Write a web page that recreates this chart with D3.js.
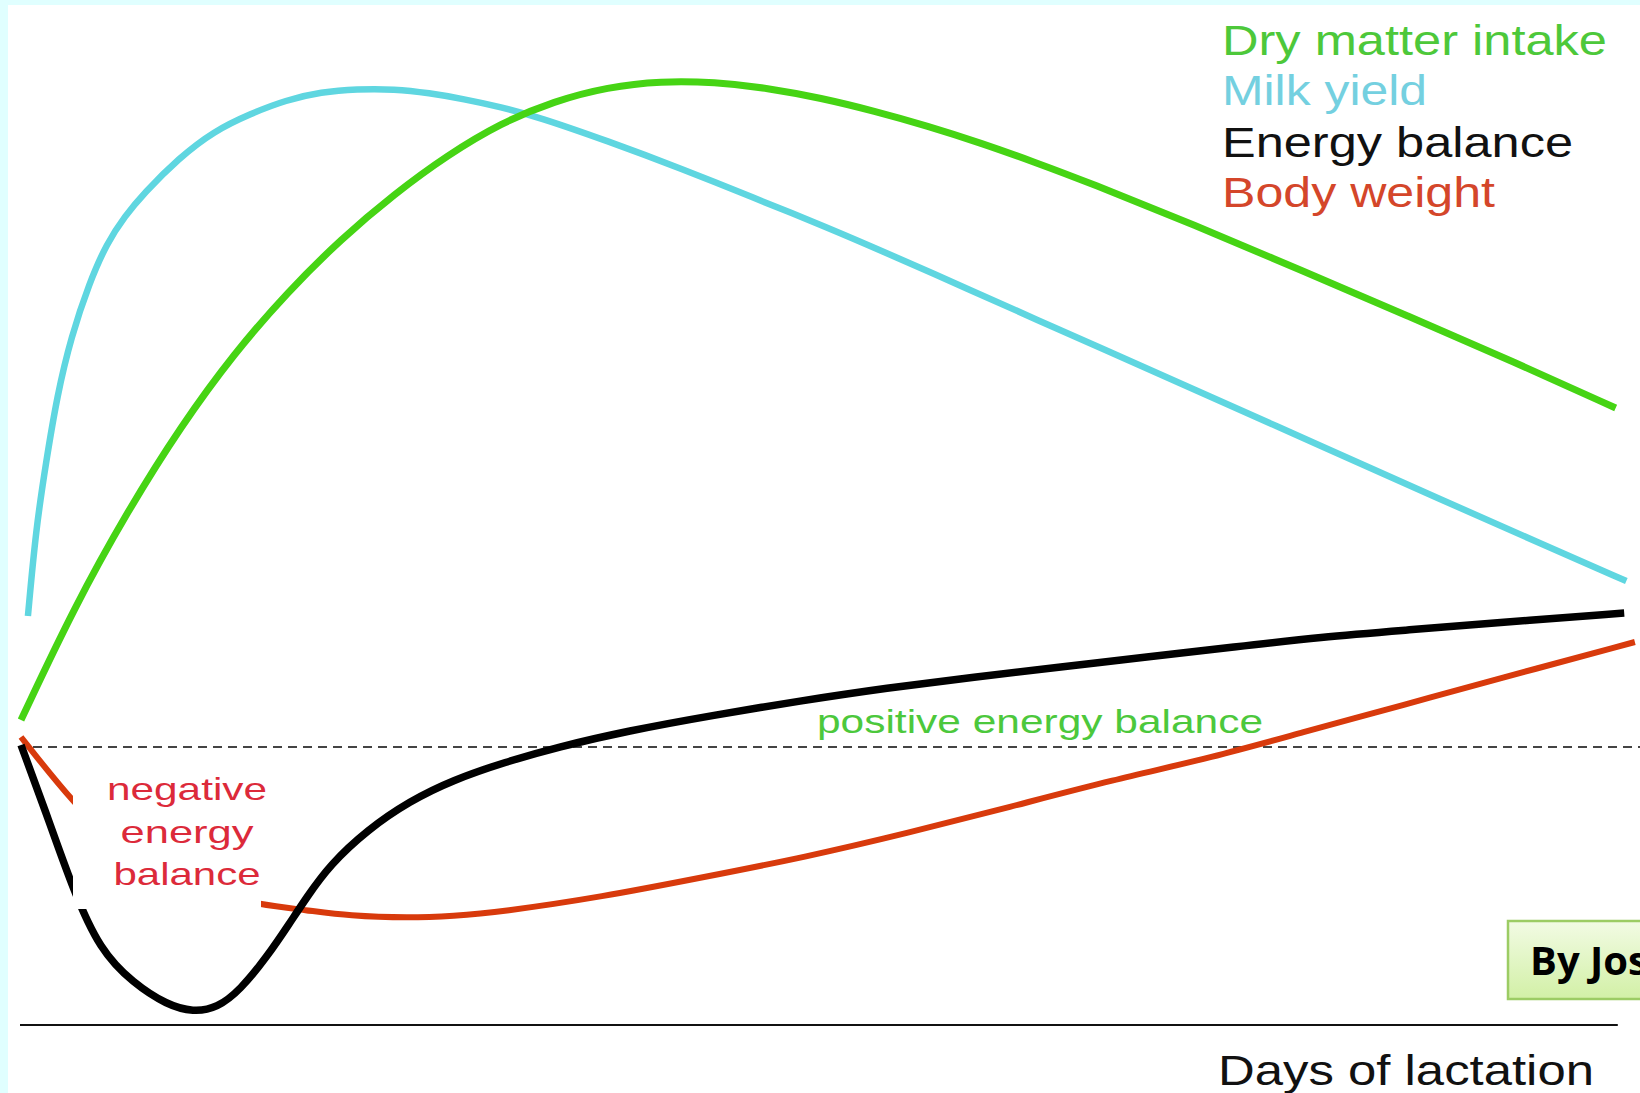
<!DOCTYPE html>
<html>
<head>
<meta charset="utf-8">
<script src="https://cdn.jsdelivr.net/npm/d3@7"></script>
<style>
  html, body { margin: 0; padding: 0; background: #e0ffff; overflow: hidden; }
  svg { display: block; }
</style>
</head>
<body>
<svg id="chart" width="1640" height="1093"></svg>
<script>
// ---------- DATA (days of lactation, relative units) ----------
const dmiDays   = [0, 10, 20, 30, 40, 50, 60, 70, 80, 90, 100, 110, 120, 130, 140, 150, 160, 170, 180, 190, 200, 220, 240, 260, 280, 299];
const dmiValues = [30.5, 41.8, 51.4, 59.9, 67.2, 73.3, 78.6, 83.1, 87.0, 90.2, 92.4, 93.8, 94.4, 94.3, 93.7, 92.7, 91.4, 89.9, 88.2, 86.3, 84.3, 80.0, 75.5, 70.9, 66.3, 61.7];

const milkDays   = [1.3, 2.8, 4.7, 6.8, 9.4, 12.8, 16.1, 19.5, 22.9, 29.6, 36.2, 42.9, 49.7, 56.3, 63, 70, 76.5, 83, 90, 97, 110, 124, 137, 151, 164, 178, 191, 202, 219, 245, 266, 286, 301];
const milkValues = [40.9, 49.6, 56.3, 63.0, 68.8, 74.2, 78.2, 80.9, 83.1, 86.7, 89.4, 91.1, 92.5, 93.3, 93.6, 93.6, 93.2, 92.6, 91.8, 90.8, 88.4, 85.6, 82.8, 79.8, 76.8, 73.5, 70.4, 67.8, 63.8, 57.6, 52.6, 47.9, 44.4];

const ebDays   = [0, 5.4, 9.8, 14.8, 21, 27.4, 32.3, 36.8, 41.1, 46.1, 50.4, 53.6, 57.9, 64.9, 72.9, 81, 90.8, 100.7, 113.6, 130, 146, 162.4, 178.7, 195, 211, 227.4, 243.8, 260, 276, 300.6];
const ebValues = [28.0, 20.2, 13.5, 7.5, 4.2, 2.0, 1.3, 1.7, 3.5, 6.8, 10.2, 12.8, 16.0, 19.5, 22.4, 24.5, 26.3, 27.8, 29.4, 31.0, 32.4, 33.7, 34.8, 35.8, 36.8, 37.8, 38.8, 39.5, 40.2, 41.2];

const bwDays   = [0, 9.6, 20.4, 33.6, 45, 53.4, 61.5, 72.9, 81, 89.8, 108.9, 128.1, 147.2, 166.3, 185.4, 204.6, 223.7, 239.8, 259.9, 276.2, 302.6];
const bwValues = [28.8, 22.3, 16.5, 13.4, 12.0, 11.5, 10.9, 10.7, 10.9, 11.3, 12.8, 14.8, 16.8, 19.2, 21.8, 24.5, 26.8, 29.2, 32.1, 34.5, 38.3];

const zeroBalance = 27.8;   // level of the dashed "energy balance = 0" line

const legendLabels = ["Dry matter intake", "Milk yield", "Energy balance", "Body weight"];
const negativeLabel = ["negative", "energy", "balance"];
const positiveLabel = "positive energy balance";
const axisLabel = "Days of lactation";
const creditLabel = "By Jos";

// ---------- STYLES ----------
const lineColors = { dmi: "#46d414", milk: "#5fd6e0", eb: "#000000", bw: "#d83a0c" };
const legendColors = ["#4dc83a", "#74d0e0", "#111111", "#d4462a"];
const legendWidths = [385, 205, 351, 273];

const svg = d3.select("#chart");
const W = 1640, H = 1093;

// frame: light cyan border on top/left, white canvas
svg.append("rect").attr("x", 0).attr("y", 0).attr("width", W).attr("height", H).attr("fill", "#e0ffff");
svg.append("rect").attr("x", 8).attr("y", 5).attr("width", W - 8).attr("height", H - 5).attr("fill", "#ffffff");

const x = d3.scaleLinear().domain([0, 300]).range([21, 1621]);
const y = d3.scaleLinear().domain([0, 100]).range([1025, 25]);

const line = d3.line().x(d => x(d[0])).y(d => y(d[1])).curve(d3.curveBasis);
const zip = (a, b) => a.map((v, i) => [v, b[i]]);

// dashed zero-balance line
svg.append("line")
  .attr("x1", 33).attr("x2", W)
  .attr("y1", y(zeroBalance)).attr("y2", y(zeroBalance))
  .attr("stroke", "#444").attr("stroke-width", 2)
  .attr("stroke-dasharray", "9,6");

// x axis line
svg.append("line")
  .attr("x1", x(0) - 1).attr("x2", x(299.4))
  .attr("y1", y(0)).attr("y2", y(0))
  .attr("stroke", "#111").attr("stroke-width", 2);

// series
const series = [
  { key: "bw",   days: bwDays,   vals: bwValues,   w: 6 },
  { key: "eb",   days: ebDays,   vals: ebValues,   w: 7.5 },
  { key: "milk", days: milkDays, vals: milkValues, w: 6.5 },
  { key: "dmi",  days: dmiDays,  vals: dmiValues,  w: 7 }
];
series.forEach(s => {
  svg.append("path")
    .datum(zip(s.days, s.vals))
    .attr("d", line)
    .attr("fill", "none")
    .attr("stroke", lineColors[s.key])
    .attr("stroke-width", s.w)
    .attr("stroke-linejoin", "round");
});

// "negative energy balance" label with white background
svg.append("rect").attr("x", 73).attr("y", 760).attr("width", 188).attr("height", 149).attr("fill", "#ffffff");
const negW = [160, 133, 147];
const negY = [800, 843, 885];
negativeLabel.forEach((t, i) => {
  svg.append("text")
    .attr("x", 187 - negW[i] / 2).attr("y", negY[i])
    .attr("textLength", negW[i]).attr("lengthAdjust", "spacingAndGlyphs")
    .attr("font-family", "Liberation Sans, Arial, sans-serif")
    .attr("font-size", 32)
    .attr("fill", "#dc2a3a")
    .text(t);
});

// positive label
svg.append("text")
  .attr("x", 817).attr("y", 733)
  .attr("textLength", 446).attr("lengthAdjust", "spacingAndGlyphs")
  .attr("font-family", "Liberation Sans, Arial, sans-serif")
  .attr("font-size", 34)
  .attr("fill", "#4cc83c")
  .text(positiveLabel);

// legend
const legendY = [55, 105, 157, 207];
legendLabels.forEach((t, i) => {
  svg.append("text")
    .attr("x", 1222).attr("y", legendY[i])
    .attr("textLength", legendWidths[i]).attr("lengthAdjust", "spacingAndGlyphs")
    .attr("font-family", "Liberation Sans, Arial, sans-serif")
    .attr("font-size", 42)
    .attr("fill", legendColors[i])
    .text(t);
});

// axis label
svg.append("text")
  .attr("x", 1218).attr("y", 1085)
  .attr("textLength", 376).attr("lengthAdjust", "spacingAndGlyphs")
  .attr("font-family", "Liberation Sans, Arial, sans-serif")
  .attr("font-size", 42)
  .attr("fill", "#111")
  .text(axisLabel);

// credit box (cut by the right edge, as in the reference)
const defs = svg.append("defs");
const grad = defs.append("linearGradient").attr("id", "cg").attr("x1", 0).attr("y1", 0).attr("x2", 0).attr("y2", 1);
grad.append("stop").attr("offset", "0%").attr("stop-color", "#f2fbe4");
grad.append("stop").attr("offset", "100%").attr("stop-color", "#d2f0a6");
svg.append("rect")
  .attr("x", 1508).attr("y", 921).attr("width", 160).attr("height", 78)
  .attr("fill", "url(#cg)").attr("stroke", "#9ccc64").attr("stroke-width", 2.5);
svg.append("text")
  .attr("x", 1530).attr("y", 975)
  .attr("font-family", "Open Sans, Liberation Sans, sans-serif")
  .attr("font-weight", "bold")
  .attr("font-size", 40)
  .attr("fill", "#000")
  .text(creditLabel);
</script>
</body>
</html>
